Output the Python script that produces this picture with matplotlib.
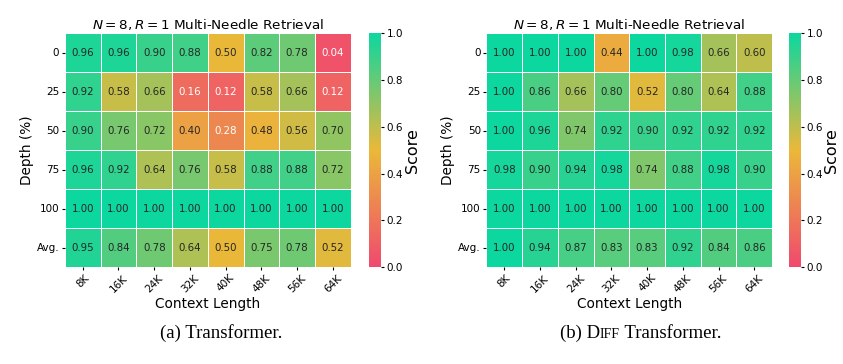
import numpy as np
import matplotlib
matplotlib.use("Agg")
import matplotlib.pyplot as plt
import seaborn as sns
from matplotlib.colors import LinearSegmentedColormap
from matplotlib.offsetbox import TextArea, HPacker, AnchoredOffsetbox

contexts = ["8K", "16K", "24K", "32K", "40K", "48K", "56K", "64K"]
depths = ["0", "25", "50", "75", "100", "Avg."]

transformer = [
    [0.96, 0.96, 0.90, 0.88, 0.50, 0.82, 0.78, 0.04],
    [0.92, 0.58, 0.66, 0.16, 0.12, 0.58, 0.66, 0.12],
    [0.90, 0.76, 0.72, 0.40, 0.28, 0.48, 0.56, 0.70],
    [0.96, 0.92, 0.64, 0.76, 0.58, 0.88, 0.88, 0.72],
    [1.00, 1.00, 1.00, 1.00, 1.00, 1.00, 1.00, 1.00],
    [0.95, 0.84, 0.78, 0.64, 0.50, 0.75, 0.78, 0.52],
]
diff_transformer = [
    [1.00, 1.00, 1.00, 0.44, 1.00, 0.98, 0.66, 0.60],
    [1.00, 0.86, 0.66, 0.80, 0.52, 0.80, 0.64, 0.88],
    [1.00, 0.96, 0.74, 0.92, 0.90, 0.92, 0.92, 0.92],
    [0.98, 0.90, 0.94, 0.98, 0.74, 0.88, 0.98, 0.90],
    [1.00, 1.00, 1.00, 1.00, 1.00, 1.00, 1.00, 1.00],
    [1.00, 0.94, 0.87, 0.83, 0.83, 0.92, 0.84, 0.86],
]

cmap = LinearSegmentedColormap.from_list("niah", ["#F0496E", "#EBB839", "#0CD79F"])

fig = plt.figure(figsize=(8.43, 3.64), dpi=100)

panels = [
    (transformer, 0.077, 0.438),
    (diff_transformer, 0.577, 0.936),
]

for data, x0, cx in panels:
    ax = fig.add_axes([x0, 0.266, 0.339, 0.643])
    cax = fig.add_axes([cx, 0.266, 0.0142, 0.643])
    sns.heatmap(np.array(data), ax=ax, cbar_ax=cax, cmap=cmap, vmin=0, vmax=1,
                annot=True, fmt=".2f", annot_kws={"size": 7.4},
                linewidths=0.6, linecolor="white",
                xticklabels=contexts, yticklabels=depths)
    ax.set_title(r"$N = 8, R = 1$ Multi-Needle Retrieval", fontsize=9.7, pad=3)
    ax.set_xlabel("Context Length", fontsize=9.8, labelpad=2)
    ax.set_ylabel("Depth (%)", fontsize=9.8, labelpad=2)
    ax.set_xticklabels(contexts, rotation=45, fontsize=7.5)
    ax.set_yticklabels(depths, rotation=0, fontsize=7.5)
    ax.tick_params(length=2.5, pad=1.5)
    cax.tick_params(labelsize=7.5, length=2.5, pad=1.5)
    cax.set_ylabel("Score", fontsize=11.5, labelpad=1)
    cax.set_yticks([0, 0.2, 0.4, 0.6, 0.8, 1.0])

fig.text(0.262, 0.085, "(a) Transformer.", ha="center", va="center",
         family="Liberation Serif", fontsize=13.5)

parts = HPacker(children=[
    TextArea("(b) D", textprops=dict(family="Liberation Serif", size=13.5)),
    TextArea("IFF", textprops=dict(family="Liberation Serif", size=10)),
    TextArea(" Transformer.", textprops=dict(family="Liberation Serif", size=13.5)),
], align="baseline", pad=0, sep=0)
box = AnchoredOffsetbox(loc="center", child=parts, pad=0, frameon=False,
                        bbox_to_anchor=(0.760, 0.085),
                        bbox_transform=fig.transFigure, borderpad=0)
fig.add_artist(box)

fig.savefig("out.png", dpi=100)
